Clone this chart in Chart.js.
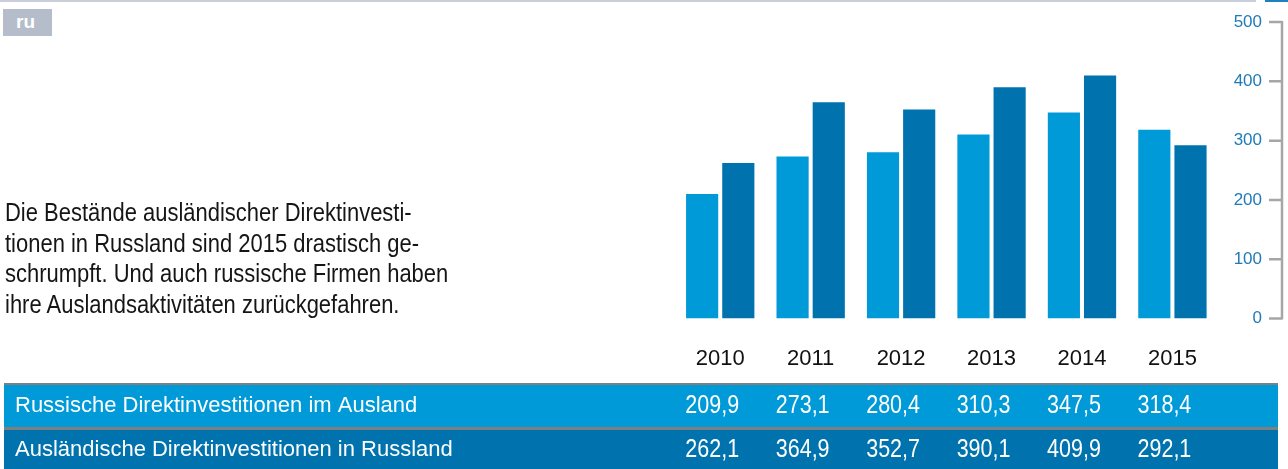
<!DOCTYPE html>
<html lang="de">
<head>
<meta charset="utf-8">
<title>Direktinvestitionen Russland</title>
<script src="https://cdn.jsdelivr.net/npm/chart.js@4.4.1/dist/chart.umd.min.js"></script>
<style>
    html, body { margin: 0; padding: 0; background: #fff; }
    body {
        width: 1288px; height: 469px; position: relative; overflow: hidden;
        font-family: 'Liberation Sans', Arial, sans-serif;
    }
    #grafik { position: absolute; left: 0; top: 0; }
    .linie-oben { position: absolute; left: 0; top: 0; width: 1256px; height: 2px; background: #c9ced9; }
    .linie-oben-blau { position: absolute; left: 1265px; top: 0; width: 23px; height: 2px; background: #1f7fbf; }
    .ru {
        position: absolute; left: 3px; top: 9px; width: 49px; height: 27px;
        background: #b5bdcb; color: #fff; font: bold 19px 'Liberation Sans', Arial, sans-serif;
        line-height: 26px; text-indent: 13px;
    }
    .intro {
        position: absolute; left: 5px; top: 197px; margin: 0; white-space: nowrap;
        font-size: 26px; line-height: 30.6px; color: #151515;
        transform: scaleX(0.845); transform-origin: 0 0;
    }
</style>
</head>
<body>
<canvas id="grafik" width="1288" height="469"></canvas>
<div class="linie-oben"></div>
<div class="linie-oben-blau"></div>
<div class="ru">ru</div>
<p class="intro">Die Bestände ausländischer Direktinvesti-<br>tionen in Russland sind 2015 drastisch ge-<br>schrumpft. Und auch russische Firmen haben<br>ihre Auslandsaktivitäten zurückgefahren.</p>

<script>
// Daten (Mrd. US-Dollar)
const jahre = ['2010', '2011', '2012', '2013', '2014', '2015'];
const russischeImAusland = [209.9, 273.1, 280.4, 310.3, 347.5, 318.4];
const auslaendischeInRussland = [262.1, 364.9, 352.7, 390.1, 409.9, 292.1];
const serienNamen = ['Russische Direktinvestitionen im Ausland', 'Ausländische Direktinvestitionen in Russland'];
const yTicks = [0, 100, 200, 300, 400, 500];

const HELLBLAU = '#009ad8';
const DUNKELBLAU = '#0073ae';
const SCHRIFT = "'Liberation Sans', Arial, sans-serif";

// Achse rechts (Linie + Striche nach links) und Wertetabelle unten
const tabellePlugin = {
    id: 'tabelle',
    afterDraw(chart) {
        const ctx = chart.ctx;
        const x = chart.scales.x;
        const y = chart.scales.y;

        // y-Achse
        const ax = 1282;
        ctx.save();
        ctx.strokeStyle = '#a6a6a6';
        ctx.lineWidth = 2.5;
        ctx.beginPath();
        ctx.moveTo(ax, y.getPixelForValue(yTicks[yTicks.length - 1]) - 1);
        ctx.lineTo(ax, y.getPixelForValue(0) + 1);
        yTicks.forEach(v => {
            const py = y.getPixelForValue(v);
            ctx.moveTo(ax - 13, py);
            ctx.lineTo(ax, py);
        });
        ctx.stroke();

        // Tabelle
        const links = 4, rechts = 1278;
        ctx.fillStyle = '#7f7f7f';
        ctx.fillRect(links, 383, rechts - links, 2);
        ctx.fillStyle = HELLBLAU;
        ctx.fillRect(links, 385, rechts - links, 42);
        ctx.fillStyle = '#7f7f7f';
        ctx.fillRect(links, 427, rechts - links, 3);
        ctx.fillStyle = DUNKELBLAU;
        ctx.fillRect(links, 430, rechts - links, 39);

        const zeilen = [
            { name: serienNamen[0], werte: russischeImAusland, mitte: 406 },
            { name: serienNamen[1], werte: auslaendischeInRussland, mitte: 450 }
        ];
        ctx.fillStyle = '#ffffff';
        ctx.textBaseline = 'middle';
        zeilen.forEach(z => {
            ctx.font = '22px ' + SCHRIFT;
            ctx.textAlign = 'left';
            ctx.fillText(z.name, 15, z.mitte);
            ctx.font = '25px ' + SCHRIFT;
            ctx.textAlign = 'center';
            z.werte.forEach((w, i) => {
                const px = x.getPixelForValue(i) - 8;
                ctx.save();
                ctx.translate(px, z.mitte);
                ctx.scale(0.86, 1);
                ctx.fillText(w.toFixed(1).replace('.', ','), 0, 0);
                ctx.restore();
            });
        });
        ctx.restore();
    }
};

new Chart(document.getElementById('grafik').getContext('2d'), {
    type: 'bar',
    data: {
        labels: jahre,
        datasets: [
            {
                label: serienNamen[0],
                data: russischeImAusland,
                backgroundColor: HELLBLAU,
                categoryPercentage: 0.8,
                barPercentage: 0.889
            },
            {
                label: serienNamen[1],
                data: auslaendischeInRussland,
                backgroundColor: DUNKELBLAU,
                categoryPercentage: 0.8,
                barPercentage: 0.889
            }
        ]
    },
    options: {
        responsive: false,
        animation: false,
        layout: { padding: { left: 675, right: 26, top: 22, bottom: 70 } },
        plugins: {
            legend: { display: false },
            tooltip: { enabled: false }
        },
        scales: {
            x: {
                grid: { display: false, drawTicks: false },
                border: { display: false },
                ticks: { color: '#111', padding: 27, font: { family: SCHRIFT, size: 22 } }
            },
            y: {
                position: 'right',
                min: 0,
                max: 500,
                afterBuildTicks: s => { s.ticks = yTicks.map(v => ({ value: v })); },
                grid: { display: false, drawTicks: false },
                border: { display: false },
                ticks: {
                    color: '#1f7ab6',
                    crossAlign: 'far',
                    padding: 8,
                    font: { family: SCHRIFT, size: 17 }
                }
            }
        }
    },
    plugins: [tabellePlugin]
});
</script>
</body>
</html>
